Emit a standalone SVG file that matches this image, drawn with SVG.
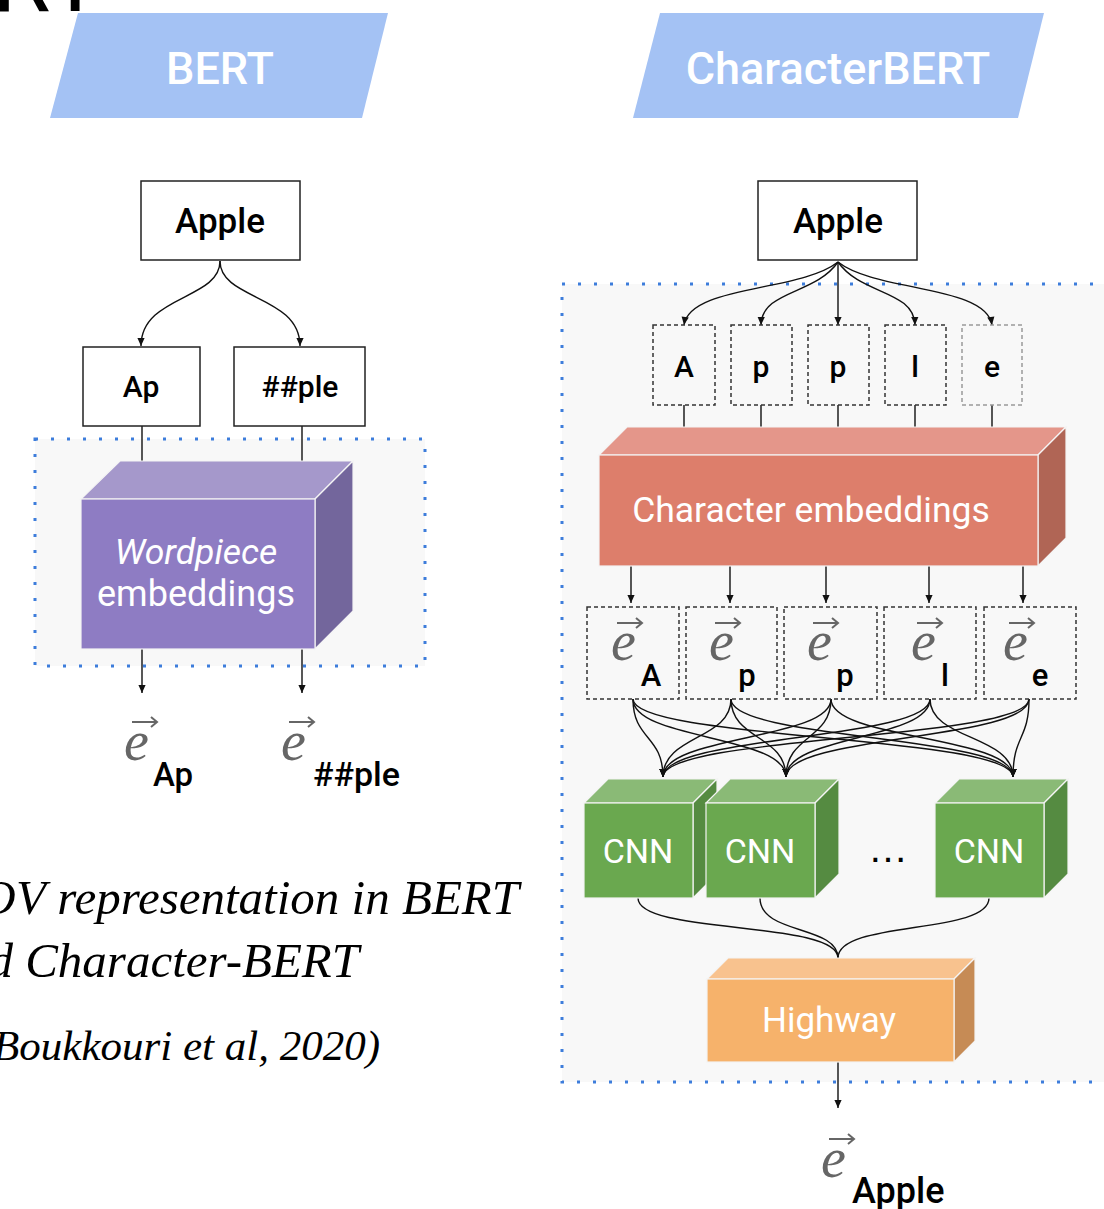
<svg xmlns="http://www.w3.org/2000/svg" width="1104" height="1209" viewBox="0 0 1104 1209">
<defs>
<marker id="ah" viewBox="0 0 10 10" refX="10" refY="5" markerWidth="9" markerHeight="8" markerUnits="userSpaceOnUse" orient="auto"><path d="M0,0.5 L10,5 L0,9.5 z" fill="#111"/></marker>
<style>
.frame{fill:#f8f8f8;stroke:#3d7ddb;stroke-width:3;stroke-dasharray:3 13}
.box{fill:#fff;stroke:#222;stroke-width:1.5}
.lbl{font-family:Roboto,"Liberation Sans",sans-serif;font-weight:500;fill:#000;text-anchor:middle}
.dbox{fill:none;stroke:#333;stroke-width:1.5;stroke-dasharray:4 3}
.conn{fill:none;stroke:#111;stroke-width:1.4}
.wt{font-family:Roboto,"Liberation Sans",sans-serif;fill:#fff;text-anchor:middle}
.edge{stroke:#f4f4f4;stroke-width:1.2}
.ev{font-family:"Liberation Serif",serif;font-style:italic;font-size:56px;fill:#666}
.evarr{stroke:#666;stroke-width:2;fill:none}
.sub{font-family:Roboto,"Liberation Sans",sans-serif;font-weight:500;fill:#000}
.cap{font-family:"Liberation Serif",serif;font-style:italic;fill:#000;text-anchor:end}
.banner{fill:#a4c2f4}
.bt{font-family:Roboto,"Liberation Sans",sans-serif;font-weight:500;fill:#fff;font-size:45px;text-anchor:middle}
</style>
</defs>
<rect width="1104" height="1209" fill="#fff"/>

<!-- title fragment -->
<text x="-8" y="11" font-family="Roboto, 'Liberation Sans', sans-serif" font-size="95" fill="#000">RT</text>

<!-- banners -->
<g id="banner-bert">
<polygon class="banner" points="78,13 388,13 362,118 50,118"/>
<text class="bt" x="220" y="84">BERT</text>
</g>
<g id="banner-characterbert">
<polygon class="banner" points="660,13 1044,13 1018,118 633,118"/>
<text class="bt" x="838" y="84">CharacterBERT</text>
</g>

<!-- frames -->
<g id="frame-left"><rect class="frame" x="35" y="439" width="390" height="227"/></g>
<g id="frame-right"><rect class="frame" x="562" y="284" width="570" height="798"/></g>

<!-- connectors -->
<g id="connectors">
<path class="conn" marker-end="url(#ah)" d="M220,261 C220,300 141,295 141,346"/>
<path class="conn" marker-end="url(#ah)" d="M220,261 C220,300 300,295 300,346"/>
<path class="conn" d="M142,426 V461"/>
<path class="conn" d="M302,426 V461"/>
<path class="conn" marker-end="url(#ah)" d="M142,649 V693"/>
<path class="conn" marker-end="url(#ah)" d="M302,649 V693"/>

<path class="conn" marker-end="url(#ah)" d="M838,262 C800,292 690,285 684,325"/>
<path class="conn" marker-end="url(#ah)" d="M838,262 C815,295 762,290 761,325"/>
<path class="conn" marker-end="url(#ah)" d="M838,262 V325"/>
<path class="conn" marker-end="url(#ah)" d="M838,262 C861,295 914,290 915,325"/>
<path class="conn" marker-end="url(#ah)" d="M838,262 C876,292 986,285 992,325"/>

<path class="conn" d="M684,405 V430"/>
<path class="conn" d="M761,405 V430"/>
<path class="conn" d="M838,405 V430"/>
<path class="conn" d="M915,405 V430"/>
<path class="conn" d="M992,405 V430"/>

<path class="conn" marker-end="url(#ah)" d="M631,566 V603"/>
<path class="conn" marker-end="url(#ah)" d="M730,566 V603"/>
<path class="conn" marker-end="url(#ah)" d="M826,566 V603"/>
<path class="conn" marker-end="url(#ah)" d="M929,566 V603"/>
<path class="conn" marker-end="url(#ah)" d="M1023,566 V603"/>

<path class="conn" marker-end="url(#ah)" d="M633,699 C633,740 663,735 663,777"/>
<path class="conn" marker-end="url(#ah)" d="M633,699 C633,740 786,735 786,777"/>
<path class="conn" marker-end="url(#ah)" d="M633,699 C633,740 1013,735 1013,777"/>
<path class="conn" marker-end="url(#ah)" d="M731,699 C731,740 663,735 663,777"/>
<path class="conn" marker-end="url(#ah)" d="M731,699 C731,740 786,735 786,777"/>
<path class="conn" marker-end="url(#ah)" d="M731,699 C731,740 1013,735 1013,777"/>
<path class="conn" marker-end="url(#ah)" d="M831,699 C831,740 663,735 663,777"/>
<path class="conn" marker-end="url(#ah)" d="M831,699 C831,740 786,735 786,777"/>
<path class="conn" marker-end="url(#ah)" d="M831,699 C831,740 1013,735 1013,777"/>
<path class="conn" marker-end="url(#ah)" d="M930,699 C930,740 663,735 663,777"/>
<path class="conn" marker-end="url(#ah)" d="M930,699 C930,740 786,735 786,777"/>
<path class="conn" marker-end="url(#ah)" d="M930,699 C930,740 1013,735 1013,777"/>
<path class="conn" marker-end="url(#ah)" d="M1029,699 C1029,740 663,735 663,777"/>
<path class="conn" marker-end="url(#ah)" d="M1029,699 C1029,740 786,735 786,777"/>
<path class="conn" marker-end="url(#ah)" d="M1029,699 C1029,740 1013,735 1013,777"/>

<path class="conn" d="M638,898 C638,935 838,920 838,958"/>
<path class="conn" d="M760,898 C760,935 838,925 838,958"/>
<path class="conn" d="M989,898 C989,935 838,920 838,958"/>

<path class="conn" marker-end="url(#ah)" d="M838,1062 V1108"/>
</g>

<!-- BERT side -->
<g id="apple-left">
<rect class="box" x="141" y="181" width="159" height="79"/>
<text class="lbl" x="220" y="233" style="font-size:35px">Apple</text>
</g>
<g id="ap">
<rect class="box" x="83" y="347" width="117" height="79"/>
<text class="lbl" x="141" y="397" style="font-size:30px">Ap</text>
</g>
<g id="ple">
<rect class="box" x="234" y="347" width="131" height="79"/>
<text class="lbl" x="300" y="397" style="font-size:30px">##ple</text>
</g>
<g id="wordpiece">
<polygon class="edge" fill="#a598cb" points="81,499 120,461 353,461 315,499"/>
<polygon class="edge" fill="#73669c" points="315,499 353,461 353,611 315,649"/>
<rect class="edge" fill="#8e7cc3" x="81" y="499" width="234" height="150"/>
<text class="wt" x="196" y="564" style="font-size:35.5px;font-style:italic">Wordpiece</text>
<text class="wt" x="196" y="606" style="font-size:36px">embeddings</text>
</g>
<g id="e-ap">
<text class="ev" x="124" y="760">e</text>
<path class="evarr" d="M132,722 H157 M151,717 L157,722 L151,727"/>
<text class="sub" x="153" y="786" style="font-size:33px">Ap</text>
</g>
<g id="e-ple">
<text class="ev" x="281" y="760">e</text>
<path class="evarr" d="M289,722 H314 M308,717 L314,722 L308,727"/>
<text class="sub" x="313" y="786" style="font-size:34px">##ple</text>
</g>

<!-- caption -->
<g id="caption">
<text class="cap" x="519" y="914" style="font-size:49px">OV representation in BERT</text>
<text class="cap" x="359" y="977" style="font-size:49px">d Character-BERT</text>
<text class="cap" x="380" y="1060" style="font-size:43px">Boukkouri et al, 2020)</text>
</g>

<!-- CharacterBERT side -->
<g id="apple-right">
<rect class="box" x="758" y="181" width="159" height="79"/>
<text class="lbl" x="838" y="233" style="font-size:35px">Apple</text>
</g>
<g id="char-A"><rect class="dbox" x="653" y="325" width="62" height="80"/><text class="lbl" x="684" y="377" style="font-size:30px">A</text></g>
<g id="char-p1"><rect class="dbox" x="731" y="325" width="61" height="80"/><text class="lbl" x="761" y="377" style="font-size:30px">p</text></g>
<g id="char-p2"><rect class="dbox" x="808" y="325" width="61" height="80"/><text class="lbl" x="838" y="377" style="font-size:30px">p</text></g>
<g id="char-l"><rect class="dbox" x="885" y="325" width="61" height="80"/><text class="lbl" x="915" y="377" style="font-size:30px">l</text></g>
<g id="char-e"><rect class="dbox" x="962" y="325" width="60" height="80" style="stroke:#999"/><text class="lbl" x="992" y="377" style="font-size:30px">e</text></g>

<g id="char-embeddings">
<polygon class="edge" fill="#e4968a" points="599,455 627,427 1066,427 1038,455"/>
<polygon class="edge" fill="#b06555" points="1038,455 1066,427 1066,538 1038,566"/>
<rect class="edge" fill="#dd7e6b" x="599" y="455" width="439" height="111"/>
<text class="wt" x="811" y="522" style="font-size:35.5px">Character embeddings</text>
</g>

<g id="ev-A"><rect class="dbox" x="587" y="607" width="92" height="92"/><text class="ev" x="611" y="660">e</text><path class="evarr" d="M617,623 H642 M636,618 L642,623 L636,628"/><text class="sub" x="651" y="686" text-anchor="middle" style="font-size:31px">A</text></g>
<g id="ev-p1"><rect class="dbox" x="686" y="607" width="91" height="92"/><text class="ev" x="709" y="660">e</text><path class="evarr" d="M715,623 H740 M734,618 L740,623 L734,628"/><text class="sub" x="747" y="686" text-anchor="middle" style="font-size:31px">p</text></g>
<g id="ev-p2"><rect class="dbox" x="784" y="607" width="93" height="92"/><text class="ev" x="807" y="660">e</text><path class="evarr" d="M813,623 H838 M832,618 L838,623 L832,628"/><text class="sub" x="845" y="686" text-anchor="middle" style="font-size:31px">p</text></g>
<g id="ev-l"><rect class="dbox" x="884" y="607" width="92" height="92"/><text class="ev" x="911" y="660">e</text><path class="evarr" d="M917,623 H942 M936,618 L942,623 L936,628"/><text class="sub" x="945" y="686" text-anchor="middle" style="font-size:31px">l</text></g>
<g id="ev-e"><rect class="dbox" x="984" y="607" width="92" height="92"/><text class="ev" x="1003" y="660">e</text><path class="evarr" d="M1009,623 H1034 M1028,618 L1034,623 L1028,628"/><text class="sub" x="1040" y="686" text-anchor="middle" style="font-size:31px">e</text></g>

<g id="cnn1">
<polygon class="edge" fill="#8aba76" points="584,803 608,779 717,779 693,803"/>
<polygon class="edge" fill="#558b41" points="693,803 717,779 717,874 693,898"/>
<rect class="edge" fill="#6aa84f" x="584" y="803" width="109" height="95"/>
<text class="wt" x="638" y="863" style="font-size:34px">CNN</text>
</g>
<g id="cnn2">
<polygon class="edge" fill="#8aba76" points="706,803 730,779 839,779 815,803"/>
<polygon class="edge" fill="#558b41" points="815,803 839,779 839,874 815,898"/>
<rect class="edge" fill="#6aa84f" x="706" y="803" width="109" height="95"/>
<text class="wt" x="760" y="863" style="font-size:34px">CNN</text>
</g>
<g id="ellipsis"><text x="888" y="862" font-family="'Liberation Sans', sans-serif" font-size="40" text-anchor="middle" fill="#000">…</text></g>
<g id="cnn3">
<polygon class="edge" fill="#8aba76" points="935,803 959,779 1068,779 1044,803"/>
<polygon class="edge" fill="#558b41" points="1044,803 1068,779 1068,874 1044,898"/>
<rect class="edge" fill="#6aa84f" x="935" y="803" width="109" height="95"/>
<text class="wt" x="989" y="863" style="font-size:34px">CNN</text>
</g>

<g id="highway">
<polygon class="edge" fill="#f8c28e" points="707,979 728,958 975,958 954,979"/>
<polygon class="edge" fill="#c68b55" points="954,979 975,958 975,1041 954,1062"/>
<rect class="edge" fill="#f6b26b" x="707" y="979" width="247" height="83"/>
<text class="wt" x="829" y="1032" style="font-size:35px">Highway</text>
</g>

<g id="e-apple">
<text class="ev" x="821" y="1177">e</text>
<path class="evarr" d="M829,1139 H854 M848,1134 L854,1139 L848,1144"/>
<text class="sub" x="852" y="1203" style="font-size:36px">Apple</text>
</g>
</svg>
